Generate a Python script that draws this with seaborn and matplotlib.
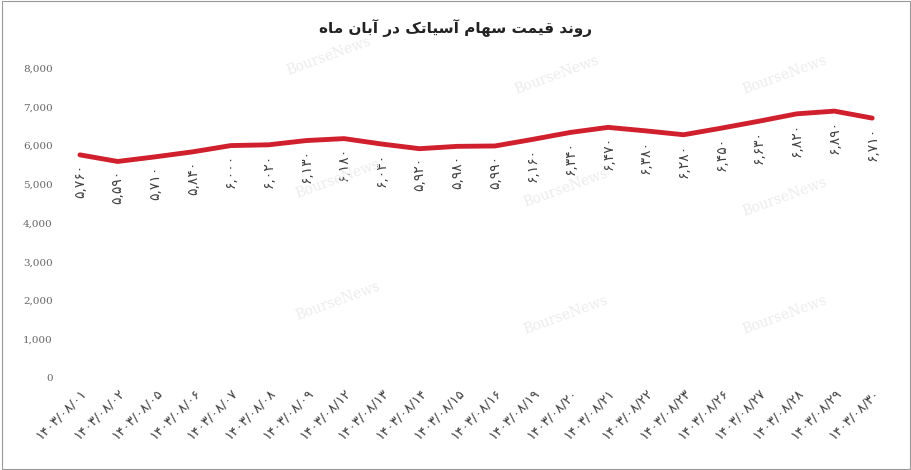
import matplotlib
matplotlib.use("Agg")
import matplotlib.pyplot as plt
import seaborn as sns
import pandas as pd

dates = ["01","02","05","06","07","08","09","12","13","14","15","16","19","20","21","22","23","26","27","28","29","30"]
prices = [5760,5590,5710,5840,6000,6020,6130,6180,6040,5920,5980,5990,6160,6340,6470,6380,6280,6450,6630,6820,6890,6710]
title_text = "روند قیمت سهام آسیاتک در آبان ماه"

FORMS = {
 'ا':('\uFE8D','\uFE8E',None,None),'آ':('\uFE81','\uFE82',None,None),
 'د':('\uFEA9','\uFEAA',None,None),'ر':('\uFEAD','\uFEAE',None,None),'و':('\uFEED','\uFEEE',None,None),
 'ب':('\uFE8F','\uFE90','\uFE91','\uFE92'),'ت':('\uFE95','\uFE96','\uFE97','\uFE98'),
 'س':('\uFEB1','\uFEB2','\uFEB3','\uFEB4'),'ق':('\uFED5','\uFED6','\uFED7','\uFED8'),
 'م':('\uFEE1','\uFEE2','\uFEE3','\uFEE4'),'ن':('\uFEE5','\uFEE6','\uFEE7','\uFEE8'),
 'ه':('\uFEE9','\uFEEA','\uFEEB','\uFEEC'),'ی':('\uFBFC','\uFBFD','\uFBFE','\uFBFF'),
 'ک':('\uFB8E','\uFB8F','\uFB90','\uFB91'),
}
def shape(s):
    out = []
    for i, c in enumerate(s):
        if c not in FORMS:
            out.append(c); continue
        prev = s[i-1] if i > 0 else ''
        nxt = s[i+1] if i+1 < len(s) else ''
        jp = prev in FORMS and FORMS[prev][2] is not None
        jn = nxt in FORMS and FORMS[c][2] is not None
        iso, fin, ini, med = FORMS[c]
        if jp and jn: out.append(med)
        elif jp: out.append(fin)
        elif jn: out.append(ini)
        else: out.append(iso)
    return ''.join(out)[::-1]

fa = str.maketrans("0123456789", "۰۱۲۳۴۵۶۷۸۹")
xlabels = [("1403/08/" + d).translate(fa) for d in dates]
df = pd.DataFrame({"x": range(len(dates)), "p": prices})

sns.set_theme(style="white")
plt.rcParams['font.family'] = ['DejaVu Sans']
fig = plt.figure(figsize=(9.12, 4.70), dpi=100)
ax = fig.add_axes([0.067, 0.196, 0.91, 0.659])
sns.lineplot(data=df, x="x", y="p", color="#d0202e", linewidth=3.5, ax=ax)
for x, p in zip(df.x, df.p):
    ax.text(x, p - 220, f"{p:,}".translate(fa), rotation=90, ha="center", va="top", fontsize=10, color="#404040")
ax.set_ylim(0, 8000)
ax.set_xlim(-0.5, len(dates) - 0.5)
ax.set_yticks(range(0, 8001, 1000))
ax.set_yticklabels([f"{v:,}" for v in range(0, 8001, 1000)], fontsize=7.5, color="#666666", family="serif")
ax.set_xticks(range(len(dates)))
ax.set_xticklabels(xlabels, rotation=45, ha="right", rotation_mode="anchor", fontsize=9.5, color="#404040")
ax.set_xlabel(""); ax.set_ylabel("")
ax.tick_params(length=0, pad=6)
for s in ax.spines.values():
    s.set_visible(False)
fig.text(0.5, 0.93, shape(title_text), ha="center", fontsize=11, fontweight="bold", color="#222222")
for (wx, wy) in [(0.36,0.88),(0.61,0.84),(0.86,0.84),(0.37,0.62),(0.62,0.60),(0.86,0.58),(0.37,0.36),(0.62,0.33),(0.86,0.33)]:
    fig.text(wx, wy, "BourseNews", rotation=20, fontsize=10, color="#ececec", family="serif", ha="center", va="center")
fig.add_artist(plt.Rectangle((0.002,0.002),0.996,0.996, transform=fig.transFigure, fill=False, edgecolor="#999999", lw=0.8))
fig.savefig("out.png", dpi=100)
